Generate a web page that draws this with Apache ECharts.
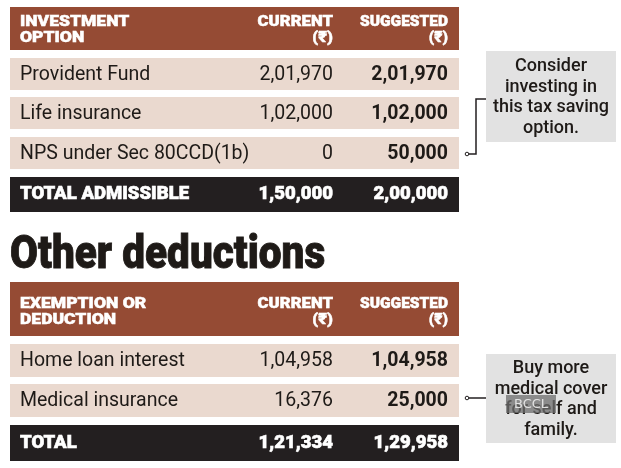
<!DOCTYPE html>
<html>
<head>
<meta charset="utf-8">
<script src="https://cdn.jsdelivr.net/npm/echarts@6/dist/echarts.min.js"></script>
<style>
html,body{margin:0;padding:0;background:#fff;}
#chart{width:621px;height:468px;}
</style>
</head>
<body>
<div id="chart"></div>
<script>
// ---- Data ----
const invHeader = ['INVESTMENT\nOPTION', 'CURRENT\n(₹)', 'SUGGESTED\n(₹)'];
const invCategories = ['Provident Fund', 'Life insurance', 'NPS under Sec 80CCD(1b)'];
const invCurrent = [201970, 102000, 0];
const invSuggested = [201970, 102000, 50000];
const invTotalLabel = 'TOTAL ADMISSIBLE';
const invTotal = [150000, 200000];

const sectionTitle = 'Other deductions';

const othHeader = ['EXEMPTION OR\nDEDUCTION', 'CURRENT\n(₹)', 'SUGGESTED\n(₹)'];
const othCategories = ['Home loan interest', 'Medical insurance'];
const othCurrent = [104958, 16376];
const othSuggested = [104958, 25000];
const othTotalLabel = 'TOTAL';
const othTotal = [121334, 129958];

const notes = ['Consider\ninvesting in\nthis tax saving\noption.', 'Buy more\nmedical cover\nfor self and\nfamily.'];
const watermark = 'BCCL';

// ---- Helpers ----
function inr(n) {
  const s = String(Math.round(n));
  if (s.length <= 3) return s;
  const last3 = s.slice(-3);
  let rest = s.slice(0, -3);
  const parts = [];
  while (rest.length > 2) { parts.unshift(rest.slice(-2)); rest = rest.slice(0, -2); }
  if (rest.length) parts.unshift(rest);
  return parts.join(',') + ',' + last3;
}

// ---- Styles / layout ----
const C = { brown: '#954b34', pink: '#ead9cf', dark: '#231f20', box: '#e2e2e2', text: '#1e1a17', white: '#ffffff', line: '#231f20' };
const FF = 'Roboto, "Noto Sans", "DejaVu Sans", sans-serif';
const L = { x0: 10, x1: 459, labelX: 20, curX: 333, sugX: 448 };

// Build rows from data
const rows = [];
rows.push({ kind: 'header', top: 7, h: 43, cells: invHeader, textTop: 16 });
const invTops = [58, 97, 137];
invCategories.forEach((c, i) => rows.push({ kind: 'row', top: invTops[i], h: 32, cells: [c, inr(invCurrent[i]), inr(invSuggested[i])] }));
rows.push({ kind: 'total', top: 177, h: 35, cells: [invTotalLabel, inr(invTotal[0]), inr(invTotal[1])] });
rows.push({ kind: 'title', top: 233, h: 40, cells: [sectionTitle] });
rows.push({ kind: 'header', top: 282, h: 54, cells: othHeader, textTop: 298 });
const othTops = [344, 384];
othCategories.forEach((c, i) => rows.push({ kind: 'row', top: othTops[i], h: 33, cells: [c, inr(othCurrent[i]), inr(othSuggested[i])] }));
rows.push({ kind: 'total', top: 425, h: 36, cells: [othTotalLabel, inr(othTotal[0]), inr(othTotal[1])] });
rows.push({ kind: 'note', top: 51, h: 91, x: 486, w: 130, cells: [notes[0]], conn: 'elbow', connY: 99, dotY: 154 });
rows.push({ kind: 'note', top: 354, h: 89, x: 486, w: 130, cells: [notes[1]], conn: 'straight', connY: 398, dotY: 398, wm: true });

// text wrapped in a (possibly scaled) group anchored at x,y
function txt(text, x, y, font, fill, align, va, opts) {
  opts = opts || {};
  const style = { text: text, font: font, fill: fill, align: align, verticalAlign: va, lineHeight: opts.lh || 16 };
  if (opts.stroke) { style.stroke = fill; style.lineWidth = opts.stroke; }
  return { type: 'group', x: x, y: y, scaleX: opts.sx || 1, scaleY: opts.sy || 1,
    children: [{ type: 'text', x: 0, y: 0, style: style }] };
}

function renderItem(params, api) {
  const r = rows[params.dataIndex];
  const ch = [];
  const w = L.x1 - L.x0;
  if (r.kind === 'header') {
    ch.push({ type: 'rect', shape: { x: L.x0, y: r.top, width: w, height: r.h }, style: { fill: C.brown } });
    const f = '900 15.5px ' + FF;
    const o = { sx: 1.08, stroke: 0.5, lh: 16 };
    ch.push(txt(r.cells[0], L.labelX, r.textTop - 2, f, C.white, 'left', 'top', Object.assign({}, o, { sx: 1.13 })));
    ch.push(txt(r.cells[1], L.curX, r.textTop - 2, f, C.white, 'right', 'top', o));
    ch.push(txt(r.cells[2], L.sugX, r.textTop - 2, f, C.white, 'right', 'top', Object.assign({}, o, { sx: 1.0 })));
  } else if (r.kind === 'row') {
    ch.push({ type: 'rect', shape: { x: L.x0, y: r.top, width: w, height: r.h }, style: { fill: C.pink } });
    const cy = r.top + r.h / 2 + 1;
    ch.push(txt(r.cells[0], L.labelX, cy, '400 19.5px ' + FF, C.text, 'left', 'middle'));
    ch.push(txt(r.cells[1], L.curX, cy, '400 19.5px ' + FF, C.text, 'right', 'middle'));
    ch.push(txt(r.cells[2], L.sugX, cy, '700 19.5px ' + FF, C.text, 'right', 'middle'));
  } else if (r.kind === 'total') {
    ch.push({ type: 'rect', shape: { x: L.x0, y: r.top, width: w, height: r.h }, style: { fill: C.dark } });
    const cy = r.top + r.h / 2;
    const f = '900 18px ' + FF;
    const o = { sx: 1.03, stroke: 0.6 };
    ch.push(txt(r.cells[0], L.labelX, cy, f, C.white, 'left', 'middle', o));
    ch.push(txt(r.cells[1], L.curX, cy, f, C.white, 'right', 'middle', o));
    ch.push(txt(r.cells[2], L.sugX, cy, f, C.white, 'right', 'middle', o));
  } else if (r.kind === 'title') {
    ch.push(txt(r.cells[0], L.x0, 256.5, '900 40.5px ' + FF, C.text, 'left', 'middle', { sy: 1.15, stroke: 0.8, lh: 41 }));
  } else if (r.kind === 'note') {
    ch.push({ type: 'rect', shape: { x: r.x, y: r.top, width: r.w, height: r.h }, style: { fill: C.box } });
    ch.push({ type: 'text', x: r.x + r.w / 2, y: r.top + r.h / 2 + 1, style: { text: r.cells[0], font: '500 18px ' + FF, fill: C.text, align: 'center', verticalAlign: 'middle', lineHeight: 20.5 } });
    const dotX = 467;
    if (r.conn === 'elbow') {
      ch.push({ type: 'polyline', shape: { points: [[r.x, r.connY], [476, r.connY], [476, r.dotY], [dotX, r.dotY]] }, style: { stroke: C.line, lineWidth: 1.5, fill: null } });
    } else {
      ch.push({ type: 'line', shape: { x1: dotX, y1: r.connY, x2: r.x, y2: r.connY }, style: { stroke: C.line, lineWidth: 1.5 } });
    }
    ch.push({ type: 'circle', shape: { cx: dotX, cy: r.dotY, r: 1.8 }, style: { fill: '#fff', stroke: C.line, lineWidth: 1 } });
    if (r.wm) {
      ch.push({ type: 'rect', shape: { x: 506, y: 395, width: 50, height: 18 }, style: { fill: 'rgba(110,110,110,0.75)' } });
      ch.push({ type: 'text', x: 531, y: 404.5, style: { text: watermark, font: '400 13px "DejaVu Sans", sans-serif', fill: 'rgba(235,235,235,0.9)', align: 'center', verticalAlign: 'middle' } });
    }
  }
  return { type: 'group', children: ch };
}

const chart = echarts.init(document.getElementById('chart'), null, { renderer: 'canvas' });
chart.setOption({
  backgroundColor: '#ffffff',
  animation: false,
  series: [{
    type: 'custom',
    coordinateSystem: 'none',
    renderItem: renderItem,
    data: rows.map((r, i) => [i]),
    silent: true
  }]
});
</script>
</body>
</html>
